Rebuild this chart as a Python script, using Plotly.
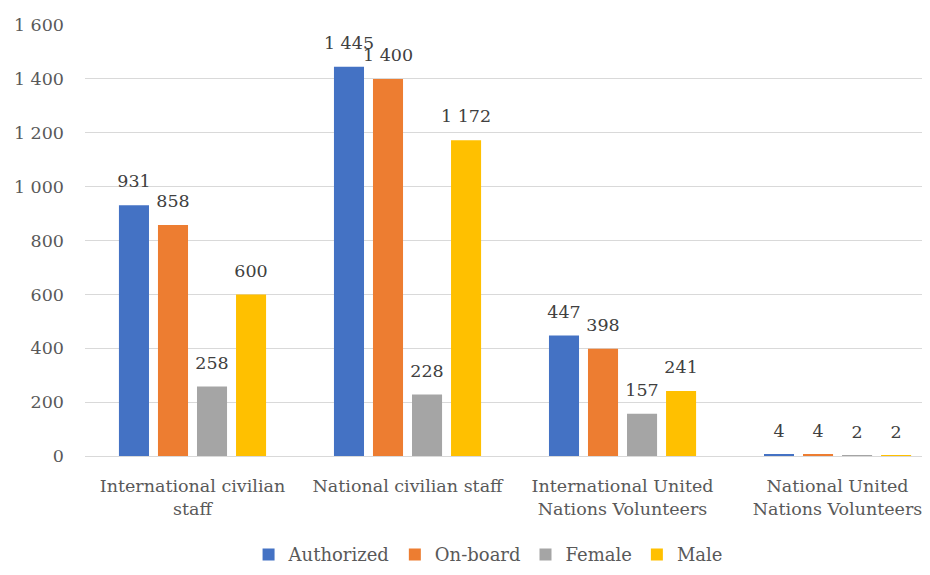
import plotly.graph_objects as go

categories = ["International civilian<br>staff", "National civilian staff",
              "International United<br>Nations Volunteers", "National United<br>Nations Volunteers"]
series_names = ["Authorized", "On-board", "Female", "Male"]
authorized = [931, 1445, 447, 4]
on_board = [858, 1400, 398, 4]
female = [258, 228, 157, 2]
male = [600, 1172, 241, 2]
series_values = [authorized, on_board, female, male]
colors = ["#4472C4", "#ED7D31", "#A5A5A5", "#FFC000"]

serif = "DejaVu Serif"

fig = go.Figure()

# barres
for name, vals, color in zip(series_names, series_values, colors):
    fig.add_trace(go.Bar(
        x=categories, y=vals, name=name,
        marker=dict(color=color, line=dict(width=0)),
        offsetgroup=name, hoverinfo="skip"
    ))

# étiquettes au-dessus des barres
for name, vals in zip(series_names, series_values):
    fig.add_trace(go.Scatter(
        x=categories, y=vals, mode="markers+text",
        marker=dict(size=20, opacity=0),
        texttemplate="%{y:,d}", textposition="top center",
        textfont=dict(family=serif, size=17.5, color="#404040"),
        offsetgroup=name, showlegend=False, hoverinfo="skip",
        cliponaxis=False
    ))

# la page ajoute une marge de 8px : figure un peu plus petite
fig.update_layout(
    width=922, height=567,
    margin=dict(l=77, r=0, t=17, b=119),
    paper_bgcolor="white", plot_bgcolor="white",
    separators=". ",
    barmode="group", bargap=0.274, bargroupgap=0.23,
    scattermode="group", scattergap=0.274,
    font=dict(family=serif, size=17.5, color="#595959"),
    showlegend=True,
    legend=dict(
        orientation="h", x=0.477, xanchor="center",
        y=-0.272, yanchor="bottom",
        font=dict(family=serif, size=18, color="#595959"),
        itemwidth=30, traceorder="normal"
    ),
    xaxis=dict(
        range=[-0.5, 3.43], showgrid=False, zeroline=False,
        showline=True, linecolor="#D9D9D9", linewidth=1,
        ticks="", ticklabelstandoff=14, automargin=False, tickangle=0,
        tickfont=dict(family=serif, size=17.5, color="#595959")
    ),
    yaxis=dict(
        range=[0, 1600], dtick=200, tickformat=",d",
        showgrid=True, gridcolor="#D9D9D9", gridwidth=1,
        zeroline=False, showline=False, ticks="",
        ticklabelstandoff=20, automargin=False,
        tickfont=dict(family=serif, size=17.5, color="#595959")
    ),
)

fig.write_html("out.html")
